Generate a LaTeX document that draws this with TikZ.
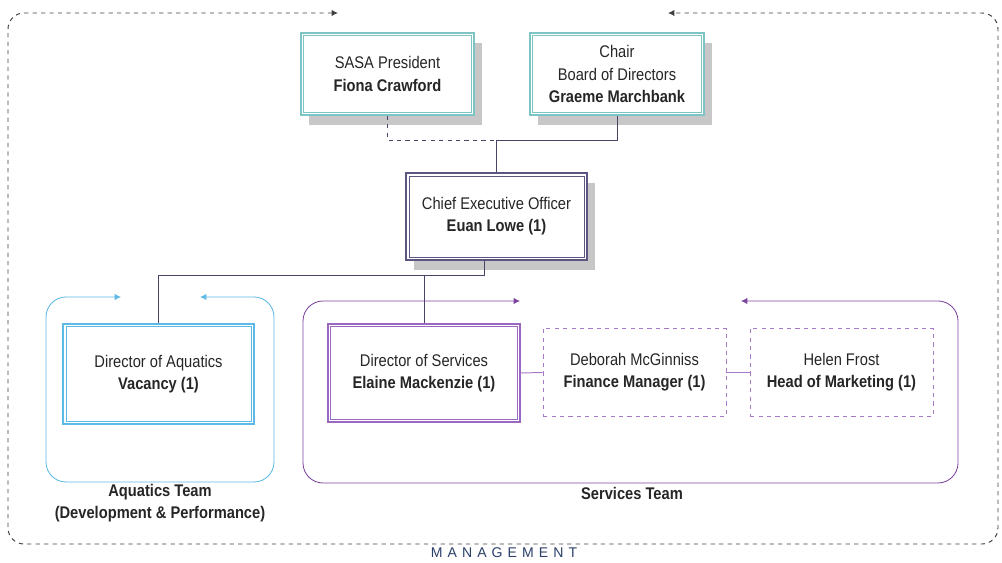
\documentclass[tikz,border=0pt]{standalone}
\usepackage{fontspec}
\setmainfont{Liberation Sans}[FakeStretch=0.87]
\newfontfamily\mgmtfont{Liberation Sans}[LetterSpace=36]
\usetikzlibrary{arrows.meta,shadows}
\definecolor{tealframe}{HTML}{7FC4C4}
\definecolor{ceoframe}{HTML}{5E5680}
\definecolor{aquablue}{HTML}{5DB9E6}
\definecolor{servpurple}{HTML}{7D449E}
\definecolor{dirpurple}{HTML}{9A68C0}
\definecolor{finpurple}{HTML}{A67AC8}
\definecolor{linkcol}{HTML}{4A4466}
\definecolor{navy}{HTML}{2B3F6B}
\begin{document}
\begin{tikzpicture}[x=0.025cm, y=-0.025cm, >={Latex[length=4.5pt,width=4.5pt]},
    post/.style={draw=#1, line width=1pt, fill=white, align=center, inner sep=0pt,
      text=black!85, font=\fontsize{12}{15.8}\selectfont,
      path picture={\draw[#1, line width=0.5pt]
        ([shift={(2pt,-2pt)}]path picture bounding box.north west) rectangle
        ([shift={(-2pt,2pt)}]path picture bounding box.south east);}},
    shade/.style={drop shadow={shadow xshift=0.2cm, shadow yshift=-0.25cm,
      fill=black!22, opacity=1}},
    vacant/.style={draw=finpurple, dashed, line width=0.6pt, fill=white,
      align=center, inner sep=0pt, text=black!85,
      font=\fontsize{12}{15.8}\selectfont},
    link/.style={draw=linkcol, line width=0.7pt},
    team/.style={align=center, text=black!85, font=\fontsize{12}{15.8}\selectfont\bfseries}]
  \useasboundingbox (0,0) rectangle (1002,563);

  % management frame
  \draw[black!75, dashed, line width=0.7pt, <->, rounded corners=0.4cm]
    (338,13) -- (8,13) -- (8,544) -- (998,544) -- (998,13) -- (668,13);
  \node[text=navy, font=\mgmtfont\fontsize{10}{12}\selectfont] (mgmt) at (504,553) {MANAGEMENT};

  % team frames
  \draw[aquablue, line width=0.6pt, <->, rounded corners=0.5cm]
    (121,297) -- (46,297) -- (46,482) -- (274,482) -- (274,297) -- (200,297);
  \draw[servpurple, line width=0.6pt, <->, rounded corners=0.5cm]
    (520,301) -- (303,301) -- (303,483) -- (958,483) -- (958,301) -- (741,301);
  \node[team] (aqlabel) at (160,503) {Aquatics Team\\(Development \& Performance)};
  \node[team] (servlabel) at (632,493) {Services Team};

  % nodes
  \node[post=tealframe, shade, minimum width=4.33cm, minimum height=2.05cm] (pres) at (387.5,74)
    {SASA President\\\textbf{Fiona Crawford}};
  \node[post=tealframe, shade, minimum width=4.35cm, minimum height=2.05cm] (chair) at (617,74)
    {Chair\\Board of Directors\\\textbf{Graeme Marchbank}};
  \node[post=ceoframe, shade, minimum width=4.52cm, minimum height=2.17cm] (ceo) at (496.5,216.5)
    {Chief Executive Officer\\\textbf{Euan Lowe (1)}};
  \node[post=aquablue, minimum width=4.77cm, minimum height=2.5cm] (aqdir) at (158.5,374)
    {Director of Aquatics\\\textbf{Vacancy (1)}};
  \node[post=dirpurple, minimum width=4.8cm, minimum height=2.45cm] (servdir) at (424,373)
    {Director of Services\\\textbf{Elaine Mackenzie (1)}};
  \node[vacant, minimum width=4.57cm, minimum height=2.22cm] (fin) at (634.5,372.5)
    {Deborah McGinniss\\\textbf{Finance Manager (1)}};
  \node[vacant, minimum width=4.57cm, minimum height=2.22cm] (mkt) at (841.5,372.5)
    {Helen Frost\\\textbf{Head of Marketing (1)}};

  % connectors
  \coordinate (join) at (496.5,140);
  \coordinate (split) at (484,275);
  \draw[link, dashed] (pres.south) |- (join);
  \draw[link] (chair.south) |- (join) -- (ceo.north);
  \draw[link] (ceo.south -| split) -- (split) -| (aqdir.north);
  \draw[link] (split) -| (servdir.north);
  \draw[link, draw=finpurple] (servdir.east) -- (fin.west);
  \draw[link, draw=finpurple] (fin.east) -- (mkt.west);
\end{tikzpicture}
\end{document}
